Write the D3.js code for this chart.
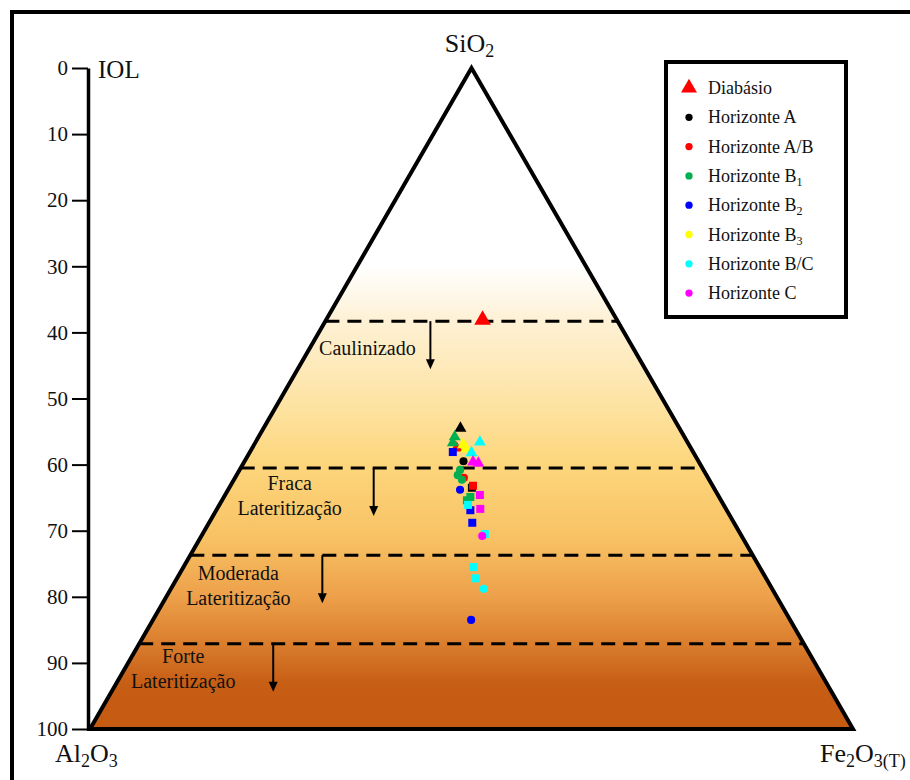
<!DOCTYPE html>
<html>
<head>
<meta charset="utf-8">
<script src="https://cdn.jsdelivr.net/npm/d3@7"></script>
<style>
body { margin: 0; background: #fff; }
svg text, svg tspan { font-family: "Liberation Serif", "Times New Roman", serif !important; fill: #111; }
</style>
</head>
<body>
<svg id="chart" width="910" height="780"></svg>
<script>
var width = 910, height = 780;

// IOL axis
var iolTicks = [0, 10, 20, 30, 40, 50, 60, 70, 80, 90, 100];

// weathering zones (IOL where each begins)
var zoneLevels = [38.3, 60.5, 73.7, 87.1];
var zoneLabels = [["Caulinizado"], ["Fraca", "Lateritização"], ["Moderada", "Lateritização"], ["Forte", "Lateritização"]];

// legend
var seriesNames = ["Diabásio", "Horizonte A", "Horizonte A/B", "Horizonte B", "Horizonte B", "Horizonte B", "Horizonte B/C", "Horizonte C"];
var seriesSubs = ["", "", "", "1", "2", "3", "", ""];
var seriesColors = ["#ff0000", "#000000", "#ff0000", "#00b050", "#0000ff", "#ffff00", "#00ffff", "#ff00ff"];

// samples: [SiO2, Al2O3, Fe2O3, profile]  profile 0 = triangle, 1 = circle, 2 = square
var diabasio = [[61.9, 17.6, 20.5, 0]];
var horizonteA = [[45.5, 28.7, 25.8, 0], [40.5, 30.8, 28.7, 1], [36.5, 31.7, 31.8, 2]];
var horizonteAB = [[42.5, 30.7, 26.8, 0], [38.0, 32.0, 30.0, 1], [36.8, 31.4, 31.8, 2]];
var horizonteB1 = [[44.2, 30.1, 25.7, 0], [43.3, 30.8, 25.9, 0], [39.2, 31.9, 28.9, 1], [38.4, 32.6, 29.0, 1],
                   [37.7, 32.4, 29.9, 1], [35.1, 32.6, 32.3, 2], [34.6, 33.3, 32.1, 2]];
var horizonteB2 = [[41.9, 31.5, 26.6, 2], [36.2, 33.4, 30.4, 1], [33.1, 33.6, 33.3, 2], [31.2, 34.3, 34.5, 2], [16.5, 41.8, 41.7, 1]];
var horizonteB3 = [[43.0, 29.6, 27.4, 0], [42.4, 29.5, 28.1, 0]];
var horizonteBC = [[43.4, 27.2, 29.4, 0], [41.8, 29.1, 29.1, 0], [33.9, 33.5, 32.6, 2], [29.5, 33.5, 37.0, 2],
                   [24.5, 37.5, 38.0, 2], [22.8, 38.1, 39.1, 2], [21.2, 37.8, 41.0, 1]];
var horizonteC = [[40.4, 29.6, 30.0, 0], [40.2, 29.0, 30.8, 0], [35.4, 31.2, 33.4, 2], [33.3, 32.2, 34.5, 2], [29.2, 34.0, 36.8, 1]];

var allSeries = [diabasio, horizonteA, horizonteAB, horizonteB1, horizonteB2, horizonteB3, horizonteBC, horizonteC];

var svg = d3.select("#chart");

// x: position along the base (0 = Al2O3, 100 = Fe2O3), y: IOL
var xScale = d3.scaleLinear().domain([0, 100]).range([90, 853]);
var yScale = d3.scaleLinear().domain([0, 100]).range([68, 729]);

function project(d) {
  var sum = d[0] + d[1] + d[2];
  var si = d[0] / sum * 100, fe = d[2] / sum * 100;
  return [xScale(fe + si / 2), yScale(100 - si)];
}

// outer frame
svg.append("rect")
  .attr("x", 12).attr("y", 12)
  .attr("width", 940).attr("height", 820)
  .attr("fill", "none")
  .attr("stroke", "#000")
  .attr("stroke-width", 4);

// gradient for the triangle
var grad = svg.append("defs").append("linearGradient")
  .attr("id", "soil")
  .attr("gradientUnits", "userSpaceOnUse")
  .attr("x1", 0).attr("x2", 0)
  .attr("y1", yScale(0)).attr("y2", yScale(100));
[[0, "#ffffff"], [0.30, "#ffffff"], [0.38, "#fef1d6"], [0.50, "#fde4a6"], [0.60, "#fdd67c"],
 [0.71, "#f8c264"], [0.80, "#eda04a"], [0.87, "#da7e2e"], [0.93, "#c75e15"], [1, "#c55a11"]]
  .forEach(function(s) {
    grad.append("stop").attr("offset", s[0]).attr("stop-color", s[1]);
  });

var corners = [[100, 0, 0], [0, 100, 0], [0, 0, 100]].map(project);

svg.append("path")
  .attr("d", "M" + corners.join("L") + "Z")
  .attr("fill", "url(#soil)");

// zone boundaries, arrows and labels
var labelOffsets = [42, 49, 48, 44];
var arrowOffsets = [105, 133, 132, 134];
var firstBaseline = [34, 22, 25, 19];

var zones = svg.append("g");
zoneLevels.forEach(function(L, i) {
  var y = yScale(L);
  var xl = xScale(50 - L / 2), xr = xScale(50 + L / 2);
  zones.append("line")
    .attr("x1", xl).attr("x2", xr)
    .attr("y1", y).attr("y2", y)
    .attr("stroke", "#000")
    .attr("stroke-width", 3)
    .attr("stroke-dasharray", "14,8");

  var ax = xl + arrowOffsets[i];
  zones.append("line")
    .attr("x1", ax).attr("x2", ax)
    .attr("y1", y).attr("y2", y + 40)
    .attr("stroke", "#000")
    .attr("stroke-width", 2);
  zones.append("path")
    .attr("d", "M" + (ax - 4.5) + "," + (y + 38) + "L" + (ax + 4.5) + "," + (y + 38) + "L" + ax + "," + (y + 48) + "Z")
    .attr("fill", "#000");

  zoneLabels[i].forEach(function(t, j) {
    zones.append("text")
      .attr("x", xl + labelOffsets[i])
      .attr("y", y + firstBaseline[i] + j * 25)
      .attr("text-anchor", "middle")
      .style("font-size", "20px")
      .text(t);
  });
});

// sample points
var symbolTypes = [d3.symbolTriangle, d3.symbolCircle, d3.symbolSquare];
var symbolSizes = [62, 52, 64];

allSeries.forEach(function(series, i) {
  svg.append("g").selectAll("path")
    .data(series)
    .enter().append("path")
    .attr("transform", function(d) { return "translate(" + project(d) + ")"; })
    .attr("d", function(d) {
      var size = i === 0 ? 120 : symbolSizes[d[3]];
      return d3.symbol().type(symbolTypes[d[3]]).size(size)();
    })
    .attr("fill", seriesColors[i]);
});

// triangle outline
svg.append("path")
  .attr("d", "M" + corners.join("L") + "Z")
  .attr("fill", "none")
  .attr("stroke", "#000")
  .attr("stroke-width", 4)
  .attr("stroke-linejoin", "miter");

// IOL axis
var yAxis = d3.axisLeft(yScale)
  .tickValues(iolTicks)
  .tickSize(16)
  .tickSizeOuter(0)
  .tickPadding(4);

var axisG = svg.append("g")
  .attr("transform", "translate(" + (xScale(0) - 2) + ",0)")
  .call(yAxis)
  .attr("font-family", null)
  .attr("font-size", 21);
axisG.select(".domain").attr("stroke", "#000").attr("stroke-width", 3.5);
axisG.selectAll(".tick line").attr("stroke", "#000").attr("stroke-width", 2);
axisG.selectAll(".tick text")
  .attr("font-size", 21)
  .style("font-size", "21px")
  .style("fill", "#111");

svg.append("text")
  .attr("x", 98).attr("y", yScale(0) + 10)
  .style("font-size", "25px")
  .text("IOL");

// vertex labels
function vertexLabel(x, y, parts, anchor) {
  var t = svg.append("text")
    .attr("x", x).attr("y", y)
    .style("font-size", "26px")
    .attr("text-anchor", anchor);
  parts.forEach(function(p) {
    t.append("tspan")
      .style("font-size", p[1] ? "18px" : "26px")
      .attr("dy", p[1] ? 5 : (p[2] ? -5 : 0))
      .text(p[0]);
  });
}
vertexLabel(xScale(50) - 2, 52, [["SiO"], ["2", true]], "middle");
vertexLabel(55, 762, [["Al"], ["2", true], ["O", false, true], ["3", true]], "start");
vertexLabel(820, 762, [["Fe"], ["2", true], ["O", false, true], ["3(T)", true]], "start");

// legend
var legend = svg.append("g").attr("transform", "translate(666,62)");
legend.append("rect")
  .attr("width", 180).attr("height", 255)
  .attr("fill", "#fff")
  .attr("stroke", "#000")
  .attr("stroke-width", 4);

var rows = legend.selectAll(".row")
  .data(seriesNames)
  .enter().append("g")
  .attr("class", "row")
  .attr("transform", function(d, i) { return "translate(0," + (26 + i * 29.3) + ")"; });

rows.append("path")
  .attr("transform", "translate(23,0)")
  .attr("d", function(d, i) {
    return i === 0 ? d3.symbol().type(d3.symbolTriangle).size(110)() : d3.symbol().type(d3.symbolCircle).size(42)();
  })
  .attr("fill", function(d, i) { return seriesColors[i]; });

var rowText = rows.append("text")
  .attr("x", 42).attr("y", 6)
  .style("font-size", "18px");
rowText.append("tspan").text(function(d) { return d; });
rowText.append("tspan")
  .style("font-size", "12px")
  .attr("dy", 4)
  .text(function(d, i) { return seriesSubs[i]; });
</script>
</body>
</html>
